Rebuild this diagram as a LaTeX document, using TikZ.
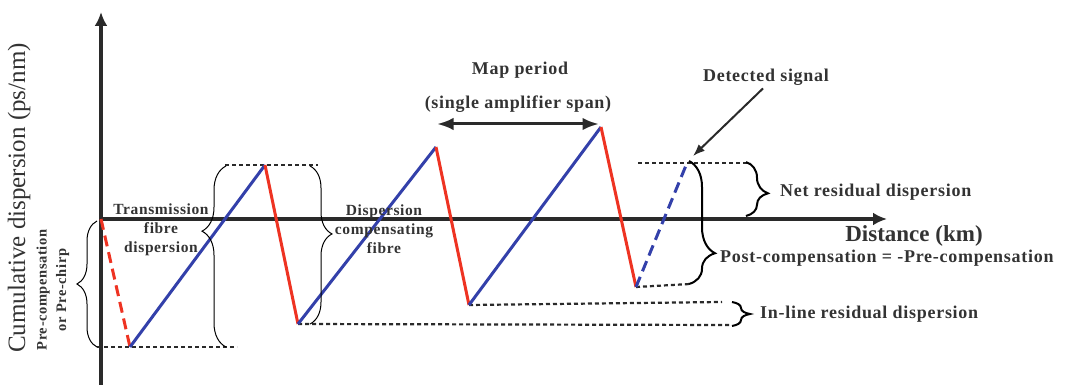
\documentclass[tikz,border=0pt]{standalone}
\usepackage{fontspec}
\setmainfont{Liberation Serif}
\newfontfamily\lblfont[LetterSpace=4]{Liberation Serif}
\usetikzlibrary{arrows.meta,positioning,decorations.pathreplacing,calc}

\definecolor{axisgray}{HTML}{2A2A2A}
\definecolor{txtgray}{HTML}{333333}
\definecolor{smfblue}{HTML}{3340AA}
\definecolor{dcfred}{HTML}{EE3322}

\begin{document}
\begin{tikzpicture}[x=1pt, y=-1pt, >=Latex]

\tikzset{
  axis/.style={-{Latex[length=14pt,width=13pt]}, line width=3.5pt, draw=axisgray},
  smf/.style={line width=3pt, draw=smfblue},
  dcf/.style={line width=3pt, draw=dcfred},
  level/.style={line width=2.2pt, draw=axisgray, dash pattern=on 4pt off 3pt},
  brace/.style={decorate, draw=black, line width=1pt,
    decoration={brace, amplitude=#1}},
  brace/.default=14pt,
  lbl/.style={font=\lblfont\fontsize{18}{20}\selectfont\bfseries, text=txtgray, inner sep=1pt},
  small/.style={font=\lblfont\fontsize{15.5}{19}\selectfont\bfseries, text=txtgray,
    align=center, inner sep=1pt},
  pointer/.style={->, line width=2pt, draw=axisgray}
}

\useasboundingbox (0,0) rectangle (1069,385);

% ==========================
% Axes
% ==========================
\coordinate (origin) at (101,219);
\coordinate (ybot) at (101,385);
\coordinate (ytop) at (101,12);
\coordinate (xend) at (887,219);

\draw[axis] (ybot) -- (ytop);
\draw[axis] (origin) -- (xend);

% ==========================
% Dispersion map (zig-zag)
% ==========================
\coordinate (v0) at (130,347);
\coordinate (p1) at (265,165);
\coordinate (v1) at (298,324);
\coordinate (p2) at (436,147);
\coordinate (v2) at (469,305);
\coordinate (p3) at (601,127);
\coordinate (v3) at (636,287);
\coordinate (det) at (687,163);

% residual levels (under the lines)
\draw[level] (97,347) -- (237,347);
\draw[level] (225,165) -- (318,165);
\draw[level] (v1) -- (730,325);
\draw[level] (v2) -- (722,302);
\draw[level] (638,163) -- (750,163);
\draw[level] (v3) -- (690,284);

\draw[dcf, dash pattern=on 11pt off 6pt] (origin) -- (v0);
\draw[smf] (v0) -- (p1);
\draw[dcf] (p1) -- (v1);
\draw[smf] (v1) -- (p2);
\draw[dcf] (p2) -- (v2);
\draw[smf] (v2) -- (p3);
\draw[dcf] (p3) -- (v3);
\draw[smf, dash pattern=on 11pt off 6pt] (v3) -- (det);

% ==========================
% Braces
% ==========================
\draw[brace=20pt, decoration={aspect=0.5}] (97,347) -- (97,221);
\draw[brace=24pt, decoration={aspect=0.64}] (226,347) -- (226,166);
\draw[brace=22pt, decoration={aspect=0.43}] (310,166) -- (310,324);
\draw[brace=22pt, decoration={aspect=0.58}, line width=2pt] (746,162) -- (746,216);
\draw[brace=26pt, decoration={aspect=0.75}, line width=2pt] (689,161) -- (689,284);
\draw[brace=18pt, line width=2pt] (732,302) -- (732,326);

% ==========================
% Labels
% ==========================
\node[font=\fontsize{25}{28}\selectfont, text=txtgray, rotate=90] (ylabel)
  at (19,198) {Cumulative dispersion (ps/nm)};
\node[small, rotate=90, font=\lblfont\fontsize{14.5}{19.5}\selectfont\bfseries] (pre)
  at (53,290) {Pre-compensation\\or Pre-chirp};

\node[small] (smfText) at (161,230) {Transmission\\fibre\\dispersion};
\node[small] (dcfText) at (384,229) {Dispersion\\compensating\\fibre};

\node[lbl, font=\fontsize{23}{26}\selectfont\bfseries] (dist) at (914,236) {Distance (km)};
\node[lbl, anchor=west] (net) at (779,192) {Net residual dispersion};
\node[lbl, anchor=west] (post) at (719,258) {Post-compensation = -Pre-compensation};
\node[lbl, anchor=west] (inline) at (759,314) {In-line residual dispersion};

\node[lbl] (map) at (520,70) {Map period};
\node[lbl] (span) at (518,104) {(single amplifier span)};
\coordinate (mapL) at (437,124);
\coordinate (mapR) at (599,124);
\draw[<->, line width=3pt, draw=axisgray] (mapL) -- (mapR);

\node[lbl] (detText) at (766,77) {Detected signal};
\draw[pointer] (detText.south) ++(-3,2) coordinate (detFrom) -- ($(det)+(6,-7)$);

\end{tikzpicture}
\end{document}
